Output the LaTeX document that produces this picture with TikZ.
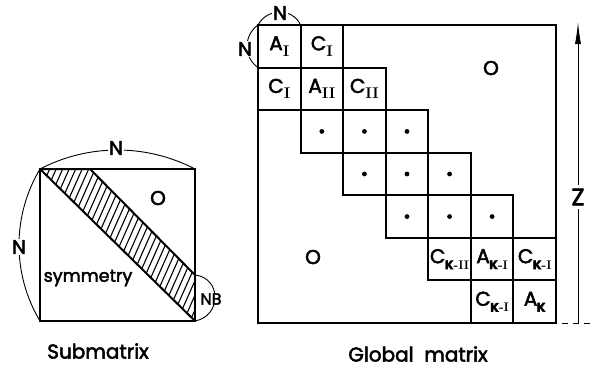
\documentclass[tikz,border=0pt]{standalone}
\usepackage{fontspec}
\newfontfamily\geo[FakeBold=2.5]{Poppins}
\usetikzlibrary{arrows.meta}
\newcommand{\rn}[1]{{\rmfamily\bfseries #1}}
\newcommand{\lbl}[2]{#1\raisebox{-6pt}{\fontsize{15.5}{15.5}\selectfont #2}}
\newcommand{\lblk}[2]{#1\kern-0.5pt\raisebox{-6pt}{\fontsize{12.5}{12.5}\selectfont #2}}
\newcommand{\kk}{{\geo\bfseries K}}
\begin{document}
\begin{tikzpicture}[x=1pt,y=-1pt,
  every node/.style={font=\geo\fontsize{20}{20}\selectfont},
  cellbox/.style={draw, line width=2pt, minimum size=42.57pt, inner sep=0pt, outer sep=0pt, anchor=north west},
  border/.style={line width=2pt},
  arcline/.style={line width=0.9pt},
  hatch/.style={line width=1.1pt},
  gap/.style={fill=white, inner sep=1pt}]
\useasboundingbox (0,0) rectangle (594,373);

% ---------- Global matrix ----------
\node[draw, line width=2pt, minimum size=298pt, inner sep=0pt, outer sep=0pt, anchor=north west] (gm) at (258,25) {};
\def\cs{42.57}
\node[cellbox] (c00) at ({258+0*\cs},{25+0*\cs}) {\lbl{A}{\rn{I}}};
\node[cellbox] (c01) at ({258+1*\cs},{25+0*\cs}) {\lbl{C}{\rn{I}}};
\node[cellbox] (c10) at ({258+0*\cs},{25+1*\cs}) {\lbl{C}{\rn{I}}};
\node[cellbox] (c11) at ({258+1*\cs},{25+1*\cs}) {\lbl{A}{\rn{II}}};
\node[cellbox] (c12) at ({258+2*\cs},{25+1*\cs}) {\lbl{C}{\rn{II}}};
\node[cellbox] (c21) at ({258+1*\cs},{25+2*\cs}) {};
\node[cellbox] (c22) at ({258+2*\cs},{25+2*\cs}) {};
\node[cellbox] (c23) at ({258+3*\cs},{25+2*\cs}) {};
\node[cellbox] (c32) at ({258+2*\cs},{25+3*\cs}) {};
\node[cellbox] (c33) at ({258+3*\cs},{25+3*\cs}) {};
\node[cellbox] (c34) at ({258+4*\cs},{25+3*\cs}) {};
\node[cellbox] (c43) at ({258+3*\cs},{25+4*\cs}) {};
\node[cellbox] (c44) at ({258+4*\cs},{25+4*\cs}) {};
\node[cellbox] (c45) at ({258+5*\cs},{25+4*\cs}) {};
\node[cellbox] (c54) at ({258+4*\cs},{25+5*\cs}) {\lblk{C}{\kk\rn{-II}}};
\node[cellbox] (c55) at ({258+5*\cs},{25+5*\cs}) {\lblk{A}{\kk\rn{-I}}};
\node[cellbox] (c56) at ({258+6*\cs},{25+5*\cs}) {\lblk{C}{\kk\rn{-I}}};
\node[cellbox] (c65) at ({258+5*\cs},{25+6*\cs}) {\lblk{C}{\kk\rn{-I}}};
\node[cellbox] (c66) at ({258+6*\cs},{25+6*\cs}) {\lblk{A}{\kk}};
\foreach \n in {c21,c22,c23,c32,c33,c34,c43,c44,c45}
  \fill (\n.center) circle (2.4pt);
% staircase boundary (lower O region)
\draw[border] (c10.south west) -- (c21.north west);
\node (oup) at (491,68) {O};
\node (olow) at (313,257) {O};

% arcs N
\draw[arcline] (gm.north west) .. controls (267.5,7.7) and (292.5,7.7) .. (c00.north east);
\node[gap] (gn1) at (280,13) {N};
\draw[arcline] (gm.north west) .. controls (243.3,35.6) and (243.3,57.4) .. (c00.south west);
\node[gap] (gn2) at (245,49) {N};

% Z dimension
\coordinate (ztop) at (578,22);
\coordinate (zbot) at (578,323);
\coordinate (dashend) at (594,323);
\coordinate (dashstart) at (562,323);
\draw[line width=0.9pt, -{Latex[length=22pt,width=6pt]}] (zbot) -- (ztop);
\node[gap, inner sep=4pt, font=\geo\fontsize{24}{24}\selectfont] (zl) at (578,197) {Z};
\draw[line width=0.9pt, dash pattern=on 6pt off 5pt] (dashstart) -- (dashend);

% ---------- Submatrix ----------
\node[draw, line width=2pt, minimum width=155pt, minimum height=152pt, inner sep=0pt, outer sep=0pt, anchor=north west] (sm) at (40,169) {};
\coordinate (b2) at (90,169);
\coordinate (b3) at (195,275);
\begin{scope}
  \clip (sm.north west) -- (b2) -- (b3) -- (sm.south east) -- cycle;
  \foreach \i in {0,...,36}
    \draw[hatch] ({-35+\i*6.5},330) -- ++(81.4,-182.8);
\end{scope}
\draw[border, line join=round] (sm.north west) -- (b2) -- (b3);
\draw[border] (sm.north west) -- (sm.south east);
\node (osub) at (158,198) {O};
\node[font=\geo\fontsize{17.5}{17.5}\selectfont] (sym) at (88,278) {symmetry};

\draw[arcline] (sm.north west) .. controls (88.6,143.7) and (146.4,143.7) .. (sm.north east);
\node[gap] (sn1) at (116,148) {N};
\draw[arcline] (sm.north west) .. controls (12,215.8) and (12,274.2) .. (sm.south west);
\node[gap] (sn2) at (19,247) {N};
\draw[arcline] (b3) .. controls (221.7,277.9) and (221.7,316.1) .. (sm.south east);
\node[gap, inner sep=0.5pt, font=\geo\fontsize{16}{16}\selectfont] (nb) at (211,299) {NB};

% captions
\node (capsub) at (98,351) {Submatrix};
\node (capglob) at (418,354) {Global\ \ matrix};
\end{tikzpicture}
\end{document}
